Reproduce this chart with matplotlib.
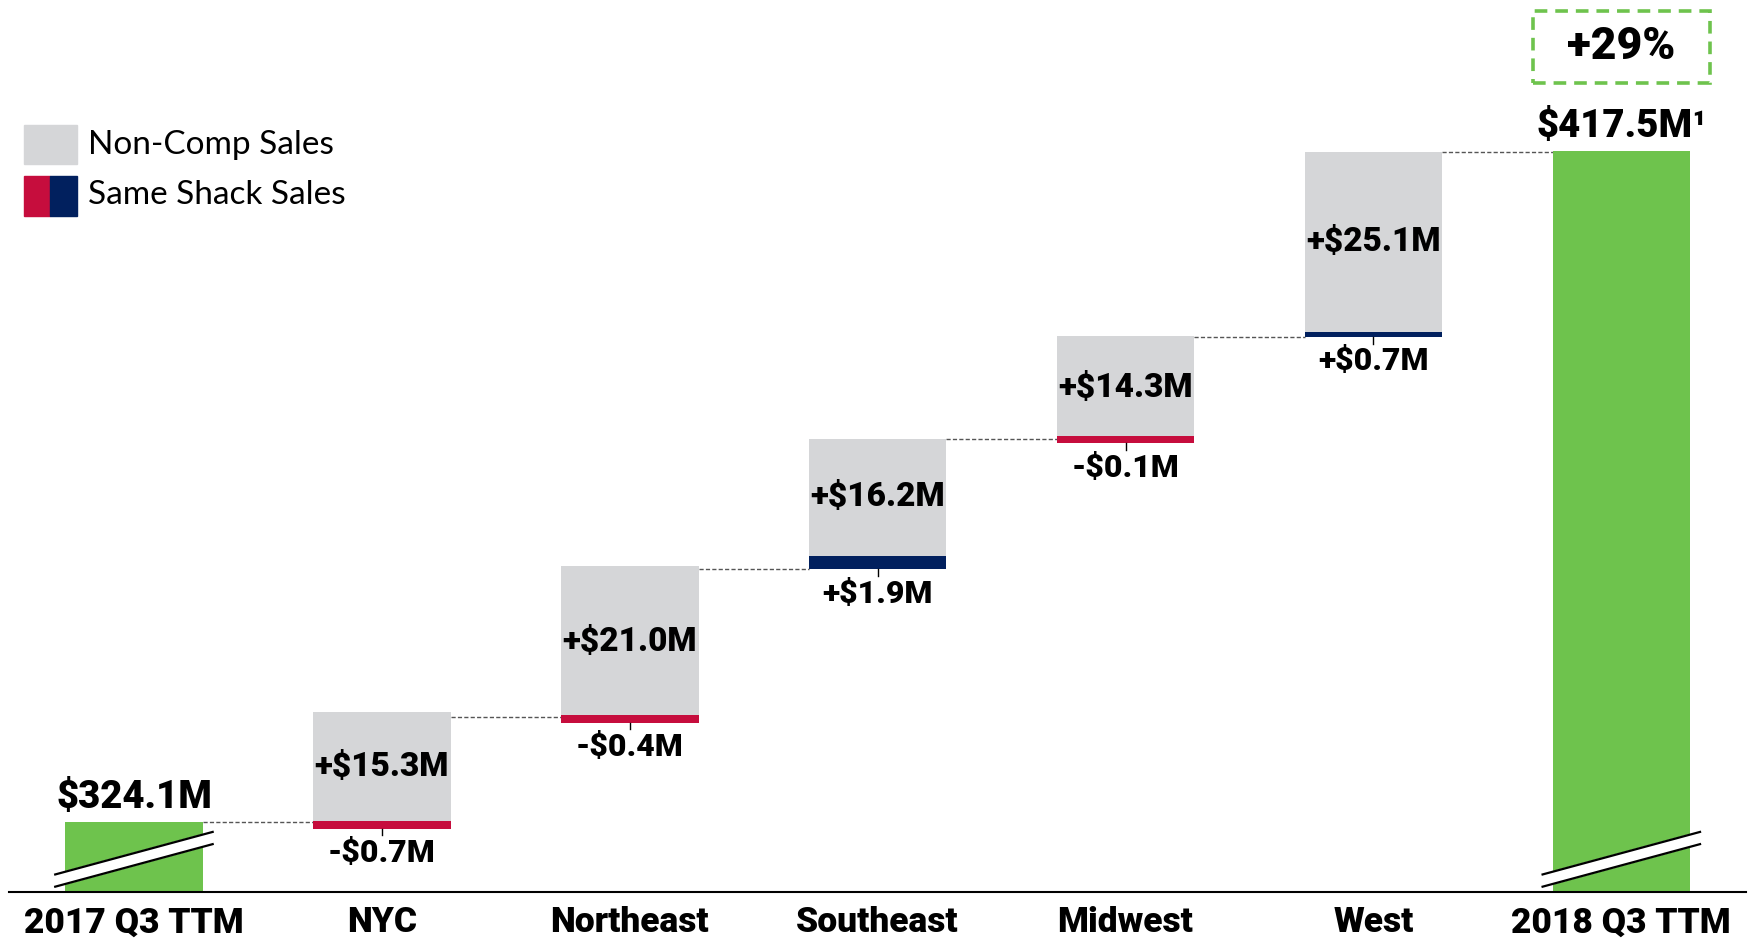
import matplotlib.pyplot as plt
from matplotlib.patches import Rectangle, Polygon

# данные
categories = ['2017 Q3 TTM', 'NYC', 'Northeast', 'Southeast', 'Midwest', 'West', '2018 Q3 TTM']
start_total = 324.1
end_total = 417.5
same_shack = [-0.7, -0.4, 1.9, -0.1, 0.7]
non_comp = [15.3, 21.0, 16.2, 14.3, 25.1]
growth = '+29%'
legend_labels = ['Non-Comp Sales', 'Same Shack Sales']

GREEN = '#6EC34D'
GREY = '#D5D6D8'
RED = '#C60D3D'
NAVY = '#01205E'
FONT = ['Roboto', 'DejaVu Sans']
WEIGHT = 'black'

fig = plt.figure(figsize=(17.55, 9.41), dpi=100)
ax = fig.add_axes([9 / 1755, 49 / 941, 1737 / 1755, 892 / 941])
floor = 314.4
ax.set_xlim(-0.504, 6.503)
ax.set_ylim(floor, 438.5)
ax.axis('off')
w = 0.555


def bold(x, y, s, dy, size):
    ax.annotate(s, (x, y), xytext=(0, dy), textcoords='offset points',
                ha='center', va='baseline', fontsize=size, fontweight=WEIGHT,
                family=FONT, annotation_clip=False)


def break_mark(x):
    l, r = x - w / 2 - 0.08 * w, x + w / 2 + 0.08 * w
    lo = [(l, floor + 0.7), (r, floor + 6.7)]
    up = [(l, floor + 2.4), (r, floor + 8.4)]
    ax.add_patch(Polygon(lo + up[::-1], closed=True, color='white', zorder=4, clip_on=False))
    for seg in (lo, up):
        ax.plot([p[0] for p in seg], [p[1] for p in seg], color='black', lw=1.6,
                zorder=5, clip_on=False, solid_capstyle='butt')


def connector(x0, x1, y):
    ax.plot([x0 + w / 2, x1 - w / 2], [y, y], color='#555555', lw=1.0,
            dashes=(3, 1.6), zorder=1)


# стартовый столбец
ax.bar(0, start_total - floor, bottom=floor, width=w, color=GREEN, zorder=2)
break_mark(0)
bold(0, start_total, '$%.1fM' % start_total, 10, 27.5)

level = start_total
for i, (c, n) in enumerate(zip(same_shack, non_comp), start=1):
    connector(i - 1, i, level)
    if c < 0:
        th = max(abs(c), 1.1)
        mid = level - abs(c) / 2
        lo, hi = mid - th / 2, mid + th / 2
        ax.bar(i, hi - lo, bottom=lo, width=w, color=RED, zorder=3)
        g0 = max(level, hi)
        ax.bar(i, level + n - g0, bottom=g0, width=w, color=GREY, zorder=2)
        bottom = lo
        top = level + n
    else:
        ax.bar(i, c, bottom=level, width=w, color=NAVY, zorder=3)
        ax.bar(i, n, bottom=level + c, width=w, color=GREY, zorder=2)
        bottom = level
        top = level + c + n
    ax.plot([i, i], [bottom, bottom - 0.9], color='black', lw=1, zorder=4)
    sign = '+' if c >= 0 else '-'
    bold(i, bottom, '%s$%.1fM' % (sign, abs(c)), -24, 23)
    gy = (max(level, level + c) + top) / 2
    ax.text(i, gy, '+$%.1fM' % n, ha='center', va='center', fontsize=24,
            fontweight=WEIGHT, family=FONT, zorder=5)
    level = level + c + n

connector(5, 6, level)
ax.bar(6, end_total - floor, bottom=floor, width=w, color=GREEN, zorder=2)
break_mark(6)
bold(6, end_total, '$%.1fM\u00b9' % end_total, 10, 27.5)

# рамка с ростом
ax.add_patch(Rectangle((6 - 0.357, 426.9), 0.714, 10.1, fill=False, edgecolor=GREEN,
                       lw=2.6, linestyle=(0, (3.5, 2.2)), clip_on=False))
ax.text(6, 431.95, growth, ha='center', va='center', fontsize=32,
        fontweight=WEIGHT, family=FONT)

# ось и подписи категорий
ax.plot([-0.504, 6.503], [floor, floor], color='black', lw=1.5, clip_on=False, zorder=6)
for i, cat in enumerate(categories):
    bold(i, floor, cat, -29, 25.5)

# легенда
H, W = 941, 1755
fig.add_artist(Rectangle((24 / W, 1 - 164 / H), 53 / W, 39 / H, color=GREY, transform=fig.transFigure))
fig.add_artist(Rectangle((24 / W, 1 - 216 / H), 26 / W, 40 / H, color=RED, transform=fig.transFigure))
fig.add_artist(Rectangle((50 / W, 1 - 216 / H), 27 / W, 40 / H, color=NAVY, transform=fig.transFigure))
fig.text(88 / W, 1 - 145 / H, legend_labels[0], fontsize=24, family=['Lato', 'DejaVu Sans'], va='center')
fig.text(88 / W, 1 - 195 / H, legend_labels[1], fontsize=24, family=['Lato', 'DejaVu Sans'], va='center')

fig.savefig('out.png', dpi=100)
